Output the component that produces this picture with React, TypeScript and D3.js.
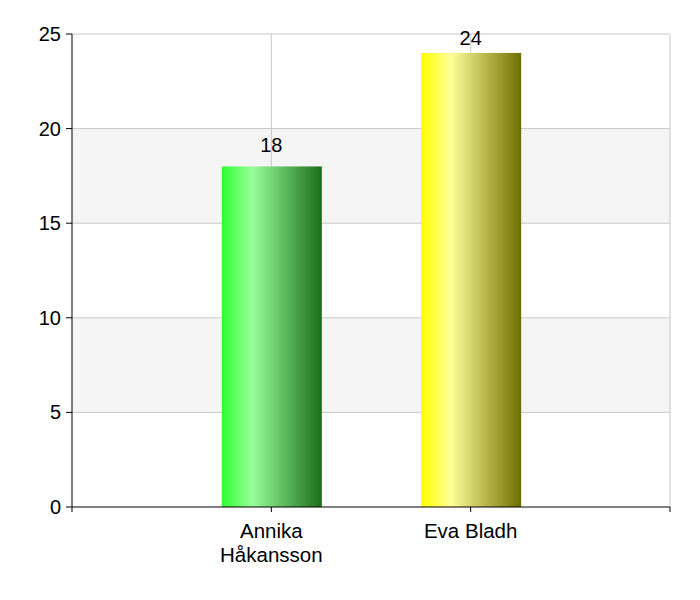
import React from "react";
import * as d3 from "d3";

const categories = ["Annika\nHåkansson", "Eva Bladh"];
const values = [18, 24];
const yTicks = [0, 5, 10, 15, 20, 25];
const gradients = [
  ["#2cff2c", "#99ff99", "#1a6e1a"],
  ["#ffff00", "#ffff99", "#6e6e00"],
];

export default function App() {
  const W = 700, H = 600;
  const left = 72, right = 670, top = 34, bottom = 507;
  const x = d3.scaleLinear().domain([0, 3]).range([left, right]);
  const y = d3.scaleLinear().domain([0, 25]).range([bottom, top]);
  const barW = 100;
  const font = "Liberation Sans, Arial, sans-serif";
  const bands = [[5, 10], [15, 20]];
  return (
    <svg width={W} height={H} style={{ position: "absolute", left: 0, top: 0 }}>
      <defs>
        {gradients.map((g, i) => (
          <linearGradient key={i} id={`g${i}`} x1="0" x2="1" y1="0" y2="0">
            <stop offset="0" stopColor={g[0]} />
            <stop offset="0.3" stopColor={g[1]} />
            <stop offset="1" stopColor={g[2]} />
          </linearGradient>
        ))}
      </defs>
      <rect x={0} y={0} width={W} height={H} fill="#fff" />
      {bands.map(([a, b], i) => (
        <rect key={i} x={left} y={y(b)} width={right - left} height={y(a) - y(b)} fill="#f5f5f5" />
      ))}
      {yTicks.filter((t) => t > 0).map((t) => (
        <line key={t} x1={left} x2={right} y1={y(t)} y2={y(t)} stroke="#c8c8c8" strokeWidth={1} />
      ))}
      {[1, 2, 3].map((c) => (
        <line key={c} x1={x(c)} x2={x(c)} y1={top} y2={bottom} stroke="#c8c8c8" strokeWidth={1} />
      ))}
      {values.map((v, i) => (
        <g key={i}>
          <rect x={x(i + 1) - barW / 2 + 0.5} y={y(v)} width={barW} height={bottom - y(v)} fill={`url(#g${i})`} />
          <text x={x(i + 1)} y={Math.max(y(v) - 14, 45)} textAnchor="middle" fontFamily={font} fontSize={20} fill="#000">
            {v}
          </text>
        </g>
      ))}
      <line x1={left} x2={left} y1={top} y2={bottom} stroke="#000" />
      <line x1={left} x2={right} y1={bottom} y2={bottom} stroke="#000" />
      {yTicks.map((t) => (
        <g key={t}>
          <line x1={left - 6} x2={left} y1={y(t)} y2={y(t)} stroke="#000" />
          <text x={left - 11} y={y(t) + 7} textAnchor="end" fontFamily={font} fontSize={20} fill="#000">
            {t}
          </text>
        </g>
      ))}
      {[0, 1, 2, 3].map((c) => (
        <line key={c} x1={x(c)} x2={x(c)} y1={bottom} y2={bottom + 5} stroke="#000" />
      ))}
      {categories.map((c, i) => (
        <text key={i} x={x(i + 1)} textAnchor="middle" fontFamily={font} fontSize={20.5} fill="#000">
          {c.split("\n").map((line, j) => (
            <tspan key={j} x={x(i + 1)} y={538 + j * 24}>
              {line}
            </tspan>
          ))}
        </text>
      ))}
    </svg>
  );
}
